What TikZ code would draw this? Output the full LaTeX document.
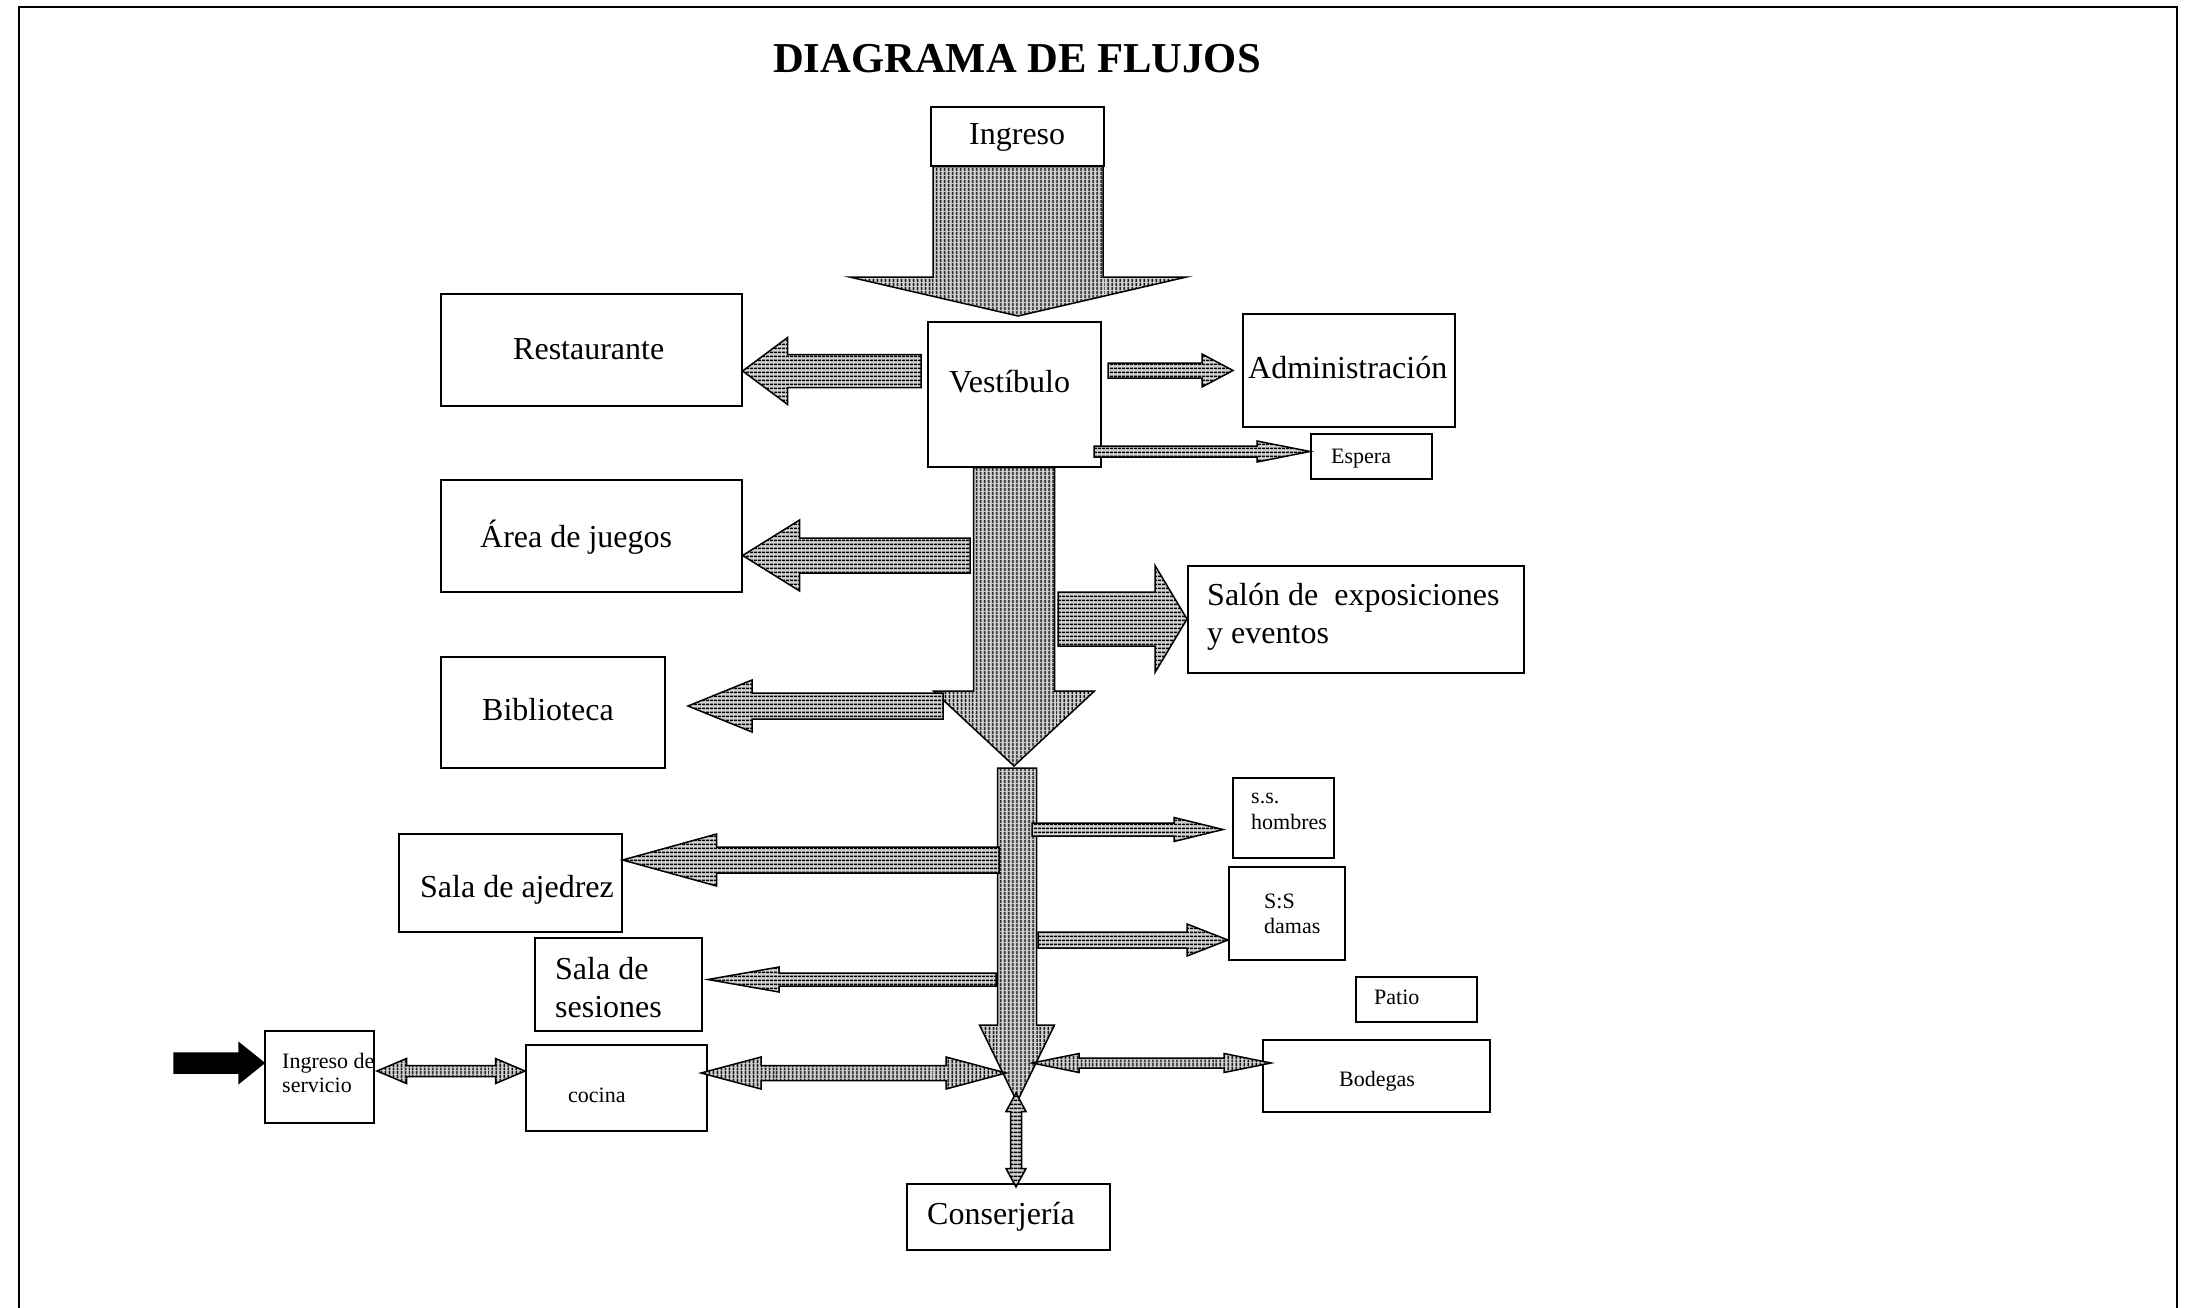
\documentclass[tikz,border=0pt]{standalone}
\usepackage{fontspec}
\setmainfont{Liberation Serif}
\usetikzlibrary{calc,patterns.meta}

\newcommand{\grande}{\fontsize{32}{38}\selectfont}
\newcommand{\chico}{\fontsize{22}{26}\selectfont}

% block arrows: [style] tail, tip, half shaft, half head, head length
\newcommand{\flechah}[6]{%
  \draw[flecha,#1] let \p1=(#2), \p2=(#3), \n1={#6*((\x2>\x1)*2-1)} in
    (\x1,{\y2+#4}) -- ({\x2-(\n1)},{\y2+#4}) -- ({\x2-(\n1)},{\y2+#5}) -- (\x2,\y2)
    -- ({\x2-(\n1)},{\y2-#5}) -- ({\x2-(\n1)},{\y2-#4}) -- (\x1,{\y2-#4}) -- cycle;}
\newcommand{\flechav}[6]{%
  \draw[flecha,#1] let \p1=(#2), \p2=(#3), \n1={#6*((\y2>\y1)*2-1)} in
    ({\x2+#4},\y1) -- ({\x2+#4},{\y2-(\n1)}) -- ({\x2+#5},{\y2-(\n1)}) -- (\x2,\y2)
    -- ({\x2-#5},{\y2-(\n1)}) -- ({\x2-#4},{\y2-(\n1)}) -- ({\x2-#4},\y1) -- cycle;}
% same, with a head at each end
\newcommand{\flechahh}[6]{%
  \draw[flecha,#1] let \p1=(#2), \p2=(#3), \n1={#6*((\x2>\x1)*2-1)} in
    (\x1,\y1) -- ({\x1+(\n1)},{\y1+#5}) -- ({\x1+(\n1)},{\y1+#4}) -- ({\x2-(\n1)},{\y1+#4})
    -- ({\x2-(\n1)},{\y1+#5}) -- (\x2,\y1) -- ({\x2-(\n1)},{\y1-#5}) -- ({\x2-(\n1)},{\y1-#4})
    -- ({\x1+(\n1)},{\y1-#4}) -- ({\x1+(\n1)},{\y1-#5}) -- cycle;}
\newcommand{\flechavv}[6]{%
  \draw[flecha,#1] let \p1=(#2), \p2=(#3), \n1={#6*((\y2>\y1)*2-1)} in
    (\x1,\y1) -- ({\x1+#5},{\y1+(\n1)}) -- ({\x1+#4},{\y1+(\n1)}) -- ({\x1+#4},{\y2-(\n1)})
    -- ({\x1+#5},{\y2-(\n1)}) -- (\x1,\y2) -- ({\x1-#5},{\y2-(\n1)}) -- ({\x1-#4},{\y2-(\n1)})
    -- ({\x1-#4},{\y1+(\n1)}) -- ({\x1-#5},{\y1+(\n1)}) -- cycle;}

\tikzset{
  caja/.style={draw, line width=1.6pt, anchor=north west, inner sep=0pt},
  rotulo/.style={anchor=base west, inner sep=0pt, font=\grande, align=left},
  rotulo chico/.style={rotulo, font=\chico},
  flecha/.style={draw, line width=1.5pt, preaction={fill=gray!35}},
  rayas h/.style={pattern={Lines[angle=0,distance=4pt,line width=1.8pt]}},
  rayas v/.style={pattern={Lines[angle=90,distance=4pt,line width=1.8pt]}},
  negra/.style={fill=black}
}

\begin{document}
\begin{tikzpicture}[x=1pt,y=-1pt]
\useasboundingbox (0,0) rectangle (2192,1308);
% page frame
\draw[line width=2.5pt] (19,1330) -- (19,7) -- (2177,7) -- (2177,1330);
\node[anchor=base west, inner sep=0pt, font=\fontsize{42.6}{50}\selectfont\bfseries] (titulo) at (773,73) {DIAGRAMA DE FLUJOS};

% rooms
\node[caja, minimum width=173, minimum height=59] (ingreso) at (930,106) {};
\node[caja, minimum width=173, minimum height=145] (vest) at (927,321) {};
\node[caja, minimum width=301, minimum height=112] (rest) at (440,293) {};
\node[caja, minimum width=212, minimum height=113] (admin) at (1242,313) {};
\node[caja, minimum width=121, minimum height=45] (espera) at (1310,433) {};
\node[caja, minimum width=301, minimum height=112] (area) at (440,479) {};
\node[caja, minimum width=336, minimum height=107] (salon) at (1187,565) {};
\node[caja, minimum width=224, minimum height=111] (bibl) at (440,656) {};
\node[caja, minimum width=223, minimum height=98] (ajedrez) at (398,833) {};
\node[caja, minimum width=167, minimum height=93] (sesiones) at (534,937) {};
\node[caja, minimum width=101, minimum height=80] (hombres) at (1232,777) {};
\node[caja, minimum width=116, minimum height=93] (damas) at (1228,866) {};
\node[caja, minimum width=121, minimum height=45] (patio) at (1355,976) {};
\node[caja, minimum width=109, minimum height=92] (servicio) at (264,1030) {};
\node[caja, minimum width=181, minimum height=86] (cocina) at (525,1044) {};
\node[caja, minimum width=227, minimum height=72] (bodegas) at (1262,1039) {};
\node[caja, minimum width=203, minimum height=66] (conserj) at (906,1183) {};

% names (two-line ones sit on their last baseline)
\node[rotulo] (ingreso-t) at (969,145) {Ingreso};
\node[rotulo] (vest-t) at (949,392) {Vestíbulo};
\node[rotulo] (rest-t) at (513,359) {Restaurante};
\node[rotulo] (admin-t) at (1248,378) {Administración};
\node[rotulo chico] (espera-t) at (1331,463) {Espera};
\node[rotulo] (area-t) at (480,547) {Área de juegos};
\node[rotulo] (salon-t) at (1207,643) {Salón de~ exposiciones\\y eventos};
\node[rotulo] (bibl-t) at (482,720) {Biblioteca};
\node[rotulo] (ajedrez-t) at (420,897) {Sala de ajedrez};
\node[rotulo] (sesiones-t) at (555,1017) {Sala de\\sesiones};
\node[rotulo chico] (hombres-t) at (1251,829) {s.s.\\hombres};
\node[rotulo chico, font=\fontsize{22}{25}\selectfont] (damas-t) at (1264,933) {S:S\\damas};
\node[rotulo chico] (patio-t) at (1374,1004) {Patio};
\node[rotulo chico, font=\fontsize{22}{24}\selectfont] (servicio-t) at (282,1092) {Ingreso de\\servicio};
\node[rotulo chico] (cocina-t) at (568,1102) {cocina};
\node[rotulo chico] (bodegas-t) at (1339,1086) {Bodegas};
\node[rotulo] (conserj-t) at (927,1224) {Conserjería};

% entrance and hall
\coordinate (c1) at (1018,316);
\flechav{rayas v}{ingreso.south}{c1}{85}{168.5}{39}
\coordinate (c2) at (921,371);
\flechah{rayas h}{c2}{rest.east |- c2}{16.5}{33.5}{45}
\coordinate (c3) at (1108,370.5);
\coordinate (c4) at (1233,370.5);
\flechah{rayas h}{c3}{c4}{7.5}{16.5}{31}
\coordinate (c5) at (1094,451.5);
\flechah{rayas h}{c5}{espera.west |- c5}{5.5}{10.5}{53}

% main corridor
\coordinate (c6) at (1014,766);
\flechav{rayas v}{vest.south}{c6}{40.5}{80.5}{75}
\coordinate (c7) at (970,555.5);
\flechah{rayas h}{c7}{area.east |- c7}{17.5}{35.5}{57}
\coordinate (c8) at (1058,619);
\flechah{rayas h}{c8}{salon.west |- c8}{27}{53.5}{32}
\coordinate (c9) at (943,706);
\coordinate (c10) at (688,706);
\flechah{rayas h}{c9}{c10}{13}{26}{64}

% second corridor
\coordinate (c11) at (1017,768);
\coordinate (c12) at (1017,1102);
\flechav{rayas v}{c11}{c12}{19.5}{37.5}{77}
\coordinate (c13) at (999,860);
\flechah{rayas h}{c13}{ajedrez.east |- c13}{13}{26}{94}
\coordinate (c14) at (1032,829.5);
\coordinate (c15) at (1223,829.5);
\flechah{rayas h}{c14}{c15}{6.5}{12}{49}
\coordinate (c16) at (1038,940);
\flechah{rayas h}{c16}{damas.west |- c16}{8}{16}{41}
\coordinate (c17) at (996,979.5);
\coordinate (c18) at (708,979.5);
\flechah{rayas h}{c17}{c18}{6.5}{12.5}{71}

% service
\coordinate (c19) at (701,1073);
\coordinate (c20) at (1006,1073);
\flechahh{rayas v}{c19}{c20}{7.5}{16}{60}
\coordinate (c21) at (1032,1063);
\coordinate (c22) at (1271,1063);
\flechahh{rayas v}{c21}{c22}{5}{9.5}{47}
\coordinate (c23) at (377,1071);
\flechahh{rayas v}{c23}{cocina.west |- c23}{5.5}{12.5}{29.5}
\coordinate (c24) at (174,1063);
\flechah{negra}{c24}{servicio.west |- c24}{10}{20}{25}
\coordinate (c25) at (1016,1093);
\coordinate (c26) at (1016,1187);
\flechavv{rayas h}{c25}{c26}{5.5}{10}{18.5}
\end{tikzpicture}
\end{document}
